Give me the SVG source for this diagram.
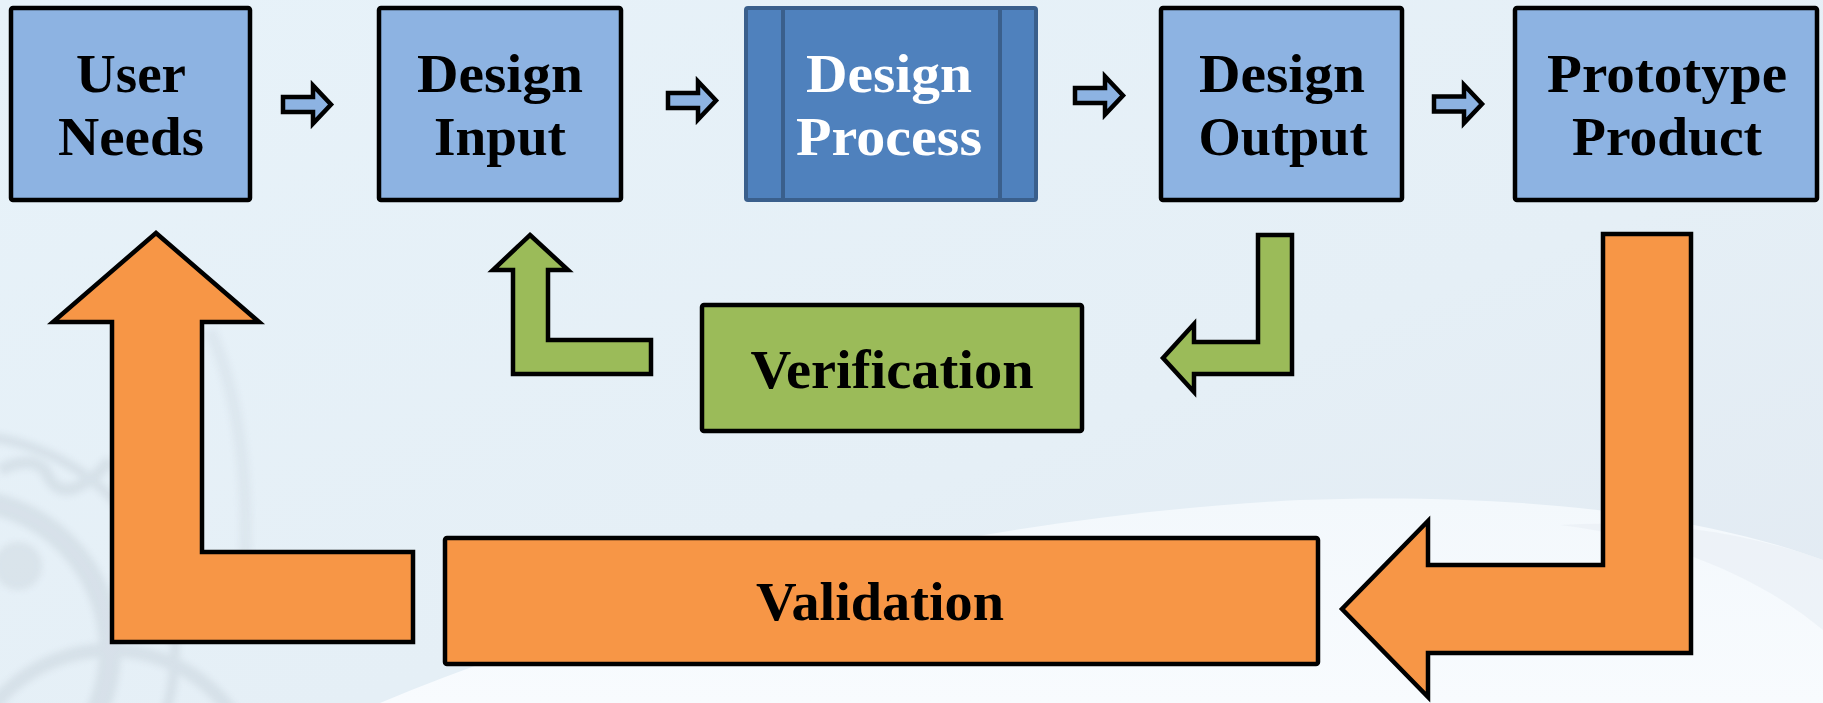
<svg xmlns="http://www.w3.org/2000/svg" width="1823" height="703" viewBox="0 0 1823 703">
  <defs>
    <linearGradient id="bgGrad" x1="0" y1="0" x2="1" y2="1">
      <stop offset="0" stop-color="#E7F2F9"/>
      <stop offset="0.6" stop-color="#E5EFF6"/>
      <stop offset="1" stop-color="#E2EAF2"/>
    </linearGradient>
    <linearGradient id="swooshGrad" x1="0" y1="0" x2="0" y2="1">
      <stop offset="0" stop-color="#F3F8FC"/>
      <stop offset="1" stop-color="#F8FBFE"/>
    </linearGradient>
    <filter id="soft" x="-10%" y="-10%" width="120%" height="120%">
      <feGaussianBlur stdDeviation="3"/>
    </filter>
    <!-- small block arrow pointing right, origin at left middle of shaft -->
    <path id="stepArrow" d="M0,-7.5 H30 V-19 L48,0 L30,19 V7.5 H0 Z"/>
    <style>
      .box { fill: #8DB3E2; stroke: #000; stroke-width: 4.5; stroke-linejoin: round; }
      .proc { fill: #4F81BD; stroke: #3A5F8C; stroke-width: 4; stroke-linejoin: round; }
      .procLine { stroke: #3A5F8C; stroke-width: 4; }
      .verify { fill: #9BBB59; stroke: #000; stroke-width: 4.5; stroke-linejoin: round; }
      .validate { fill: #F79646; stroke: #000; stroke-width: 4.5; stroke-linejoin: round; }
      .step { fill: #8DB3E2; stroke: #000; stroke-width: 4.5; stroke-linejoin: miter; }
      .greenArrow { fill: #9BBB59; stroke: #000; stroke-width: 4.5; stroke-linejoin: miter; }
      .orangeArrow { fill: #F79646; stroke: #000; stroke-width: 4.5; stroke-linejoin: miter; }
      .label { font-family: "Liberation Serif", "Times New Roman", serif; font-weight: bold; font-size: 54px; fill: #000; text-anchor: middle; }
      .white { fill: #FFFFFF; }
    </style>
  </defs>

  <!-- backdrop -->
  <rect x="0" y="0" width="1823" height="703" fill="url(#bgGrad)"/>
  <path d="M380,703 C650,590 1000,515 1300,500 C1520,492 1700,515 1823,560 L1823,703 Z" fill="url(#swooshGrad)"/>
  <path d="M1560,525 C1680,540 1770,585 1823,630 L1823,560 C1740,530 1650,520 1560,525 Z" fill="#E9EFF5" opacity="0.7"/>

  <!-- faint machine parts in the lower-left corner -->
  <g filter="url(#soft)" fill="none" stroke="#BCC7D0" opacity="0.35">
    <circle cx="-40" cy="650" r="150" stroke-width="22"/>
    <circle cx="-40" cy="650" r="215" stroke-width="10"/>
    <circle cx="110" cy="800" r="150" stroke-width="14"/>
    <path d="M0,470 Q30,455 45,470 Q55,495 75,488 Q95,480 110,460" stroke-width="12"/>
    <circle cx="18" cy="566" r="24" fill="#C3CDD5" stroke="none"/>
    <path d="M210,330 Q250,420 245,560" stroke-width="12" opacity="0.6"/>
  </g>

  <!-- process steps -->
  <g id="node-user-needs">
    <rect class="box" x="11" y="8" width="239" height="192" rx="2"/>
    <text class="label" x="131" y="92" textLength="110" lengthAdjust="spacingAndGlyphs">User</text>
    <text class="label" x="131" y="155" textLength="146" lengthAdjust="spacingAndGlyphs">Needs</text>
  </g>

  <g id="node-design-input">
    <rect class="box" x="379" y="8" width="242" height="192" rx="2"/>
    <text class="label" x="500" y="92" textLength="166" lengthAdjust="spacingAndGlyphs">Design</text>
    <text class="label" x="500" y="155" textLength="132" lengthAdjust="spacingAndGlyphs">Input</text>
  </g>

  <g id="node-design-process">
    <rect class="proc" x="746" y="8" width="290" height="192" rx="2"/>
    <line class="procLine" x1="783" y1="8" x2="783" y2="200"/>
    <line class="procLine" x1="1000" y1="8" x2="1000" y2="200"/>
    <text class="label white" x="889" y="92" textLength="166" lengthAdjust="spacingAndGlyphs">Design</text>
    <text class="label white" x="889" y="155" textLength="186" lengthAdjust="spacingAndGlyphs">Process</text>
  </g>

  <g id="node-design-output">
    <rect class="box" x="1161" y="8" width="241" height="192" rx="2"/>
    <text class="label" x="1282" y="92" textLength="166" lengthAdjust="spacingAndGlyphs">Design</text>
    <text class="label" x="1283" y="155" textLength="169" lengthAdjust="spacingAndGlyphs">Output</text>
  </g>

  <g id="node-prototype-product">
    <rect class="box" x="1515" y="8" width="302" height="192" rx="2"/>
    <text class="label" x="1667" y="92" textLength="240" lengthAdjust="spacingAndGlyphs">Prototype</text>
    <text class="label" x="1667" y="155" textLength="190" lengthAdjust="spacingAndGlyphs">Product</text>
  </g>

  <g id="node-verification">
    <rect class="verify" x="702" y="305" width="380" height="126" rx="2"/>
    <text class="label" x="892" y="388" textLength="283" lengthAdjust="spacingAndGlyphs">Verification</text>
  </g>

  <g id="node-validation">
    <rect class="validate" x="445" y="538" width="873" height="126" rx="2"/>
    <text class="label" x="880" y="620" textLength="248" lengthAdjust="spacingAndGlyphs">Validation</text>
  </g>

  <!-- connectors -->
  <g id="connectors">
    <use href="#stepArrow" class="step" transform="translate(283,104.5)"/>
    <use href="#stepArrow" class="step" transform="translate(668,100.5)"/>
    <use href="#stepArrow" class="step" transform="translate(1075,95.5)"/>
    <use href="#stepArrow" class="step" transform="translate(1434,104)"/>

    <!-- output back to verification -->
    <path class="greenArrow" d="M1258,235 H1292 V374 H1194 V392 L1163,358 L1194,324 V342 H1258 Z"/>
    <!-- verification back to input -->
    <path class="greenArrow" d="M530,235 L568,270 H548 V340 H651 V374 H513 V270 H493 Z"/>

    <!-- product down to validation -->
    <path class="orangeArrow" d="M1603,234 H1691 V653 H1428 V697 L1342,609 L1428,521 V565 H1603 Z"/>
    <!-- validation back to user needs -->
    <path class="orangeArrow" d="M156,233 L259,322 H202 V552 H413 V642 H112 V322 H53 Z"/>
  </g>
</svg>
